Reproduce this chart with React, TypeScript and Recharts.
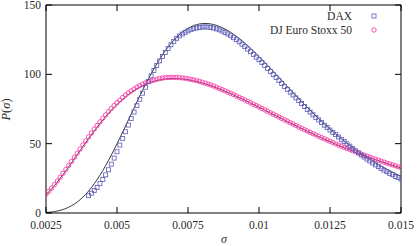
import React from "react";
import {
  ComposedChart,
  Line,
  Scatter,
  XAxis,
  YAxis,
  ReferenceLine,
} from "recharts";

// sigma grid shared by all series (step 0.0001)
const sigma = [
  0.0025, 0.0026, 0.0027, 0.0028, 0.0029, 0.003, 0.0031, 0.0032, 0.0033, 0.0034,
  0.0035, 0.0036, 0.0037, 0.0038, 0.0039, 0.004, 0.0041, 0.0042, 0.0043, 0.0044,
  0.0045, 0.0046, 0.0047, 0.0048, 0.0049, 0.005, 0.0051, 0.0052, 0.0053, 0.0054,
  0.0055, 0.0056, 0.0057, 0.0058, 0.0059, 0.006, 0.0061, 0.0062, 0.0063, 0.0064,
  0.0065, 0.0066, 0.0067, 0.0068, 0.0069, 0.007, 0.0071, 0.0072, 0.0073, 0.0074,
  0.0075, 0.0076, 0.0077, 0.0078, 0.0079, 0.008, 0.0081, 0.0082, 0.0083, 0.0084,
  0.0085, 0.0086, 0.0087, 0.0088, 0.0089, 0.009, 0.0091, 0.0092, 0.0093, 0.0094,
  0.0095, 0.0096, 0.0097, 0.0098, 0.0099, 0.01, 0.0101, 0.0102, 0.0103, 0.0104,
  0.0105, 0.0106, 0.0107, 0.0108, 0.0109, 0.011, 0.0111, 0.0112, 0.0113, 0.0114,
  0.0115, 0.0116, 0.0117, 0.0118, 0.0119, 0.012, 0.0121, 0.0122, 0.0123, 0.0124,
  0.0125, 0.0126, 0.0127, 0.0128, 0.0129, 0.013, 0.0131, 0.0132, 0.0133, 0.0134,
  0.0135, 0.0136, 0.0137, 0.0138, 0.0139, 0.014, 0.0141, 0.0142, 0.0143, 0.0144,
  0.0145, 0.0146, 0.0147, 0.0148, 0.0149, 0.015,
];

// DAX squares start at sigma = 0.0040
const daxStart = 15;
const daxObs = [
  12.5, 14.3, 16.2, 18.5, 21.2, 24.2, 27.5, 31.2, 35.2, 39.6,
  44.2, 49.0, 53.8, 58.6, 63.4, 68.1, 72.8, 77.4, 82.0, 86.4,
  90.7, 94.9, 98.9, 102.7, 106.3, 109.7, 112.8, 115.7, 118.7, 121.3,
  123.8, 126.0, 127.7, 129.1, 130.3, 131.3, 132.2, 132.9, 133.4, 133.8,
  134.1, 134.2, 134.1, 133.8, 133.4, 132.8, 132.1, 131.2, 130.2, 129.1,
  127.8, 126.4, 125.0, 123.4, 121.7, 120.0, 118.2, 116.3, 114.4, 112.4,
  110.6, 108.5, 106.4, 104.3, 102.1, 99.9, 97.7, 95.6, 93.4, 91.2,
  89.2, 87.1, 85.1, 83.0, 81.0, 78.9, 76.8, 74.7, 72.8, 70.8,
  68.9, 67.1, 65.2, 63.3, 61.6, 59.8, 58.1, 56.5, 54.8, 53.1,
  51.5, 49.9, 48.2, 46.5, 44.9, 43.4, 41.8, 40.4, 38.9, 37.5,
  36.1, 34.7, 33.4, 32.1, 30.9, 29.8, 28.6, 27.6, 26.4, 25.5, 24.5,
];

const daxFit = [
  0.35, 0.51, 0.74, 1.03, 1.42, 1.91, 2.52, 3.27, 4.17, 5.24,
  6.49, 7.93, 9.58, 11.45, 13.54, 15.84, 18.37, 21.12, 24.08, 27.26,
  30.63, 34.18, 37.9, 41.77, 45.78, 49.89, 54.11, 58.38, 62.71, 67.06,
  71.41, 75.76, 80.06, 84.3, 88.46, 92.51, 96.46, 100.28, 103.94, 107.45,
  110.79, 113.95, 116.92, 119.69, 122.25, 124.61, 126.76, 128.69, 130.41, 131.91,
  133.2, 134.28, 135.16, 135.83, 136.31, 136.59, 136.69, 136.6, 136.34, 135.92,
  135.33, 134.6, 133.72, 132.71, 131.57, 130.32, 128.94, 127.47, 125.9, 124.24,
  122.5, 120.7, 118.82, 116.88, 114.89, 112.86, 110.79, 108.68, 106.55, 104.39,
  102.21, 100.03, 97.83, 95.63, 93.42, 91.23, 89.04, 86.86, 84.7, 82.55,
  80.42, 78.31, 76.23, 74.17, 72.14, 70.14, 68.17, 66.23, 64.33, 62.46,
  60.62, 58.82, 57.05, 55.32, 53.63, 51.98, 50.36, 48.78, 47.24, 45.74,
  44.27, 42.84, 41.45, 40.09, 38.77, 37.49, 36.24, 35.02, 33.84, 32.7,
  31.58, 30.5, 29.45, 28.44, 27.45, 26.5,
];

const stoxxObs = [
  13.5, 15.7, 18.0, 20.5, 23.1, 25.8, 28.6, 31.4, 34.3, 37.2,
  40.2, 43.1, 46.1, 49.1, 52.0, 54.9, 57.7, 60.5, 63.1, 65.7,
  68.3, 70.7, 73.1, 75.3, 77.5, 79.5, 81.4, 83.3, 85.0, 86.6,
  88.0, 89.4, 90.7, 91.8, 92.9, 93.8, 94.6, 95.3, 95.9, 96.5,
  96.9, 97.3, 97.6, 97.7, 97.8, 97.8, 97.7, 97.6, 97.4, 97.2,
  96.8, 96.4, 96.0, 95.5, 94.9, 94.3, 93.7, 93.0, 92.3, 91.6,
  90.7, 89.9, 89.0, 88.1, 87.2, 86.3, 85.4, 84.4, 83.4, 82.5,
  81.5, 80.5, 79.5, 78.5, 77.5, 76.5, 75.4, 74.4, 73.4, 72.3,
  71.3, 70.3, 69.2, 68.2, 67.2, 66.2, 65.1, 64.1, 63.1, 62.1,
  61.1, 60.1, 59.2, 58.2, 57.2, 56.3, 55.3, 54.4, 53.5, 52.6,
  51.7, 50.8, 49.9, 49.0, 48.2, 47.3, 46.5, 45.7, 44.9, 44.1,
  43.3, 42.5, 41.7, 41.0, 40.3, 39.5, 38.8, 38.1, 37.4, 36.7,
  36.0, 35.4, 34.7, 34.1, 33.4, 32.8,
];

const stoxxFit = [
  13.14, 15.25, 17.51, 19.9, 22.42, 25.04, 27.75, 30.53, 33.37, 36.26,
  39.17, 42.1, 45.03, 47.95, 50.84, 53.7, 56.51, 59.26, 61.94, 64.55,
  67.07, 69.51, 71.86, 74.11, 76.25, 78.29, 80.22, 82.05, 83.76, 85.36,
  86.85, 88.23, 89.5, 90.67, 91.72, 92.67, 93.52, 94.26, 94.91, 95.46,
  95.92, 96.29, 96.57, 96.77, 96.88, 96.92, 96.89, 96.77, 96.6, 96.36,
  96.06, 95.69, 95.27, 94.8, 94.28, 93.71, 93.11, 92.45, 91.76, 91.03,
  90.27, 89.48, 88.66, 87.81, 86.94, 86.04, 85.13, 84.19, 83.24, 82.27,
  81.29, 80.3, 79.3, 78.3, 77.28, 76.26, 75.23, 74.2, 73.16, 72.13,
  71.09, 70.06, 69.03, 68.0, 66.97, 65.94, 64.92, 63.91, 62.9, 61.9,
  60.9, 59.92, 58.94, 57.97, 57.01, 56.05, 55.1, 54.17, 53.25, 52.33,
  51.42, 50.53, 49.65, 48.78, 47.91, 47.06, 46.22, 45.4, 44.58, 43.77,
  42.98, 42.2, 41.42, 40.66, 39.92, 39.18, 38.45, 37.74, 37.04, 36.35,
  35.66, 34.99, 34.34, 33.69, 33.05, 32.42,
];

const xTicks = [0.0025, 0.005, 0.0075, 0.01, 0.0125, 0.015];
const yTicks = [0, 50, 100, 150];

const DAX_COLOR = "#5a5ab8";
const STOXX_COLOR = "#ff3caa";
const FONT = "Liberation Serif, DejaVu Serif, serif";
const TEXT = "#2a2a2a";
const FONT_SIZE = 11.5;

const PLOT_LEFT = 46;
const PLOT_RIGHT = 401;
const PLOT_TOP = 5;
const PLOT_BOTTOM = 213;
const TICK = 6;

const daxData = daxObs.map((p, i) => ({ s: sigma[i + daxStart], p }));
const daxFitData = sigma.map((s, i) => ({ s, p: daxFit[i] }));
const stoxxData = sigma.map((s, i) => ({ s, p: stoxxObs[i] }));
const stoxxFitData = sigma.map((s, i) => ({ s, p: stoxxFit[i] }));

const Square = ({ cx, cy }: any) => (
  <rect
    x={cx - 2}
    y={cy - 2}
    width={4}
    height={4}
    fill="none"
    stroke={DAX_COLOR}
    strokeWidth={0.8}
  />
);

const Circle = ({ cx, cy }: any) => (
  <circle cx={cx} cy={cy} r={2.2} fill="none" stroke={STOXX_COLOR} strokeWidth={0.9} />
);

// ticks drawn inward on both bottom and top edges
const XTick = ({ x, payload }: any) => (
  <g>
    <line x1={x} x2={x} y1={PLOT_BOTTOM} y2={PLOT_BOTTOM - TICK} stroke="#000" />
    <line x1={x} x2={x} y1={PLOT_TOP} y2={PLOT_TOP + TICK} stroke="#000" />
    <text x={x} y={229} textAnchor="middle" fill={TEXT} fontSize={FONT_SIZE} fontFamily={FONT}>
      {String(payload.value)}
    </text>
  </g>
);

const YTick = ({ y, payload }: any) => (
  <g>
    <line x1={PLOT_LEFT} x2={PLOT_LEFT + TICK} y1={y} y2={y} stroke="#000" />
    <line x1={PLOT_RIGHT} x2={PLOT_RIGHT - TICK} y1={y} y2={y} stroke="#000" />
    <text x={41} y={y + 4} textAnchor="end" fill={TEXT} fontSize={FONT_SIZE} fontFamily={FONT}>
      {payload.value}
    </text>
  </g>
);

const XTitle = () => (
  <text x={224} y={243} textAnchor="middle" fill={TEXT} fontSize={12} fontFamily={FONT} fontStyle="italic">
    σ
  </text>
);

const YTitle = () => (
  <text
    x={10}
    y={109.5}
    transform="rotate(-90, 10, 109.5)"
    textAnchor="middle"
    fill={TEXT}
    fontSize={12.5}
    fontFamily={FONT}
  >
    <tspan fontStyle="italic">P</tspan>(<tspan fontStyle="italic">σ</tspan>)
  </text>
);

const legendItems = [
  { label: "DAX", marker: "square" },
  { label: "DJ Euro Stoxx 50", marker: "circle" },
];

export default function App() {
  return (
    <div style={{ position: "absolute", left: 0, top: 0, width: 417, height: 246, background: "#fff" }}>
      <ComposedChart
        width={417}
        height={246}
        margin={{ top: PLOT_TOP, right: 16, bottom: 3, left: 0 }}
      >
        <XAxis
          dataKey="s"
          type="number"
          domain={[0.0025, 0.015]}
          ticks={xTicks}
          interval={0}
          height={30}
          tickLine={false}
          axisLine={{ stroke: "#000" }}
          tick={<XTick />}
          allowDataOverflow
          label={<XTitle />}
        />
        <YAxis
          type="number"
          domain={[0, 150]}
          ticks={yTicks}
          interval={0}
          width={46}
          tickLine={false}
          axisLine={{ stroke: "#000" }}
          tick={<YTick />}
          allowDataOverflow
          label={<YTitle />}
        />
        <ReferenceLine y={150} stroke="#000" />
        <ReferenceLine x={0.015} stroke="#000" />
        <Scatter data={stoxxData} dataKey="p" shape={<Circle />} isAnimationActive={false} />
        <Scatter data={daxData} dataKey="p" shape={<Square />} isAnimationActive={false} />
        <Line
          data={daxFitData}
          dataKey="p"
          type="monotone"
          dot={false}
          stroke="#222"
          strokeWidth={0.9}
          isAnimationActive={false}
        />
        <Line
          data={stoxxFitData}
          dataKey="p"
          type="monotone"
          dot={false}
          stroke="#222"
          strokeWidth={0.9}
          isAnimationActive={false}
        />
      </ComposedChart>
      <div
        style={{
          position: "absolute",
          left: 180,
          top: 9,
          width: 199,
          fontFamily: FONT,
          fontSize: FONT_SIZE,
          lineHeight: "14px",
          color: TEXT,
        }}
      >
        {legendItems.map((item) => (
          <div
            key={item.label}
            style={{ display: "flex", justifyContent: "flex-end", alignItems: "center", height: 14 }}
          >
            <span>{item.label}</span>
            <svg width={10} height={10} style={{ marginLeft: 17 }}>
              {item.marker === "square" ? <Square cx={5} cy={5} /> : <Circle cx={5} cy={5} />}
            </svg>
          </div>
        ))}
      </div>
    </div>
  );
}
